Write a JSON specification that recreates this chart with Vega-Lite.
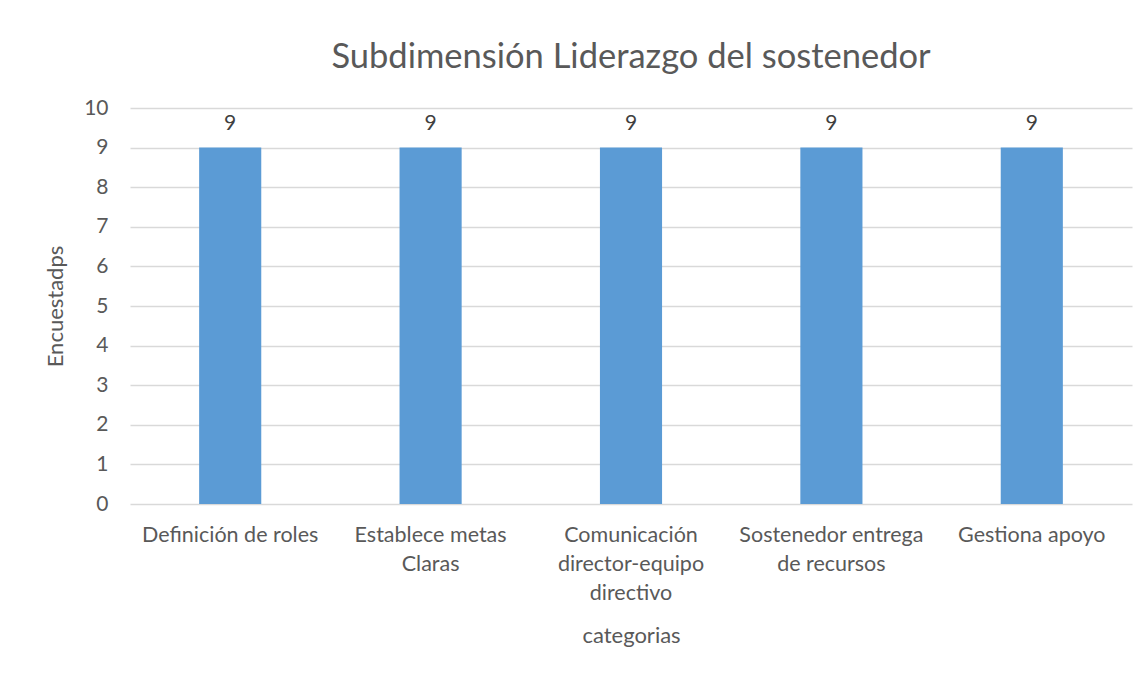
{
  "$schema": "https://vega.github.io/schema/vega-lite/v6.json",
  "autosize": {"type": "none"},
  "width": 1002,
  "height": 396,
  "padding": {"left": 130, "top": 108, "right": 13, "bottom": 171},
  "background": "white",
  "title": {
    "text": "Subdimensión Liderazgo del sostenedor",
    "font": "Lato",
    "fontSize": 34.5,
    "fontWeight": "normal",
    "color": "#595959",
    "anchor": "middle",
    "offset": 22
  },
  "data": {
    "values": [
      {"categoria": "Definición de roles", "valor": 9},
      {"categoria": "Establece metas|Claras", "valor": 9},
      {"categoria": "Comunicación|director-equipo|directivo", "valor": 9},
      {"categoria": "Sostenedor entrega|de recursos", "valor": 9},
      {"categoria": "Gestiona apoyo", "valor": 9}
    ]
  },
  "encoding": {
    "x": {
      "field": "categoria",
      "type": "nominal",
      "sort": null,
      "title": "categorias",
      "scale": {"paddingInner": 0.69, "paddingOuter": 0.345},
      "axis": {
        "labelAngle": 0,
        "labelExpr": "split(datum.label, '|')",
        "labelFont": "Lato",
        "labelFontSize": 21.5,
        "labelColor": "#595959",
        "labelLineHeight": 29,
        "labelPadding": 20,
        "labelLimit": 300,
        "labelOverlap": false,
        "domain": false,
        "ticks": false,
        "titleFont": "Lato",
        "titleFontSize": 22,
        "titleFontWeight": "normal",
        "titleColor": "#595959",
        "titlePadding": 22
      }
    },
    "y": {
      "field": "valor",
      "type": "quantitative",
      "title": "Encuestadps",
      "scale": {"domain": [0, 10]},
      "axis": {
        "values": [0, 1, 2, 3, 4, 5, 6, 7, 8, 9, 10],
        "labelOverlap": false,
        "domain": false,
        "ticks": false,
        "grid": true,
        "gridColor": "#D9D9D9",
        "gridWidth": 1.3,
        "labelFont": "Lato",
        "labelFontSize": 21,
        "labelColor": "#595959",
        "labelPadding": 22,
        "titleFont": "Lato",
        "titleFontSize": 22,
        "titleFontWeight": "normal",
        "titleColor": "#595959",
        "titlePadding": 16
      }
    }
  },
  "layer": [
    {"mark": {"type": "bar", "color": "#5B9BD5"}},
    {
      "mark": {"type": "text", "font": "Lato", "fontSize": 21, "color": "#404040", "baseline": "bottom", "dy": -14},
      "encoding": {"text": {"field": "valor", "type": "quantitative"}}
    }
  ],
  "config": {"view": {"stroke": null}}
}
